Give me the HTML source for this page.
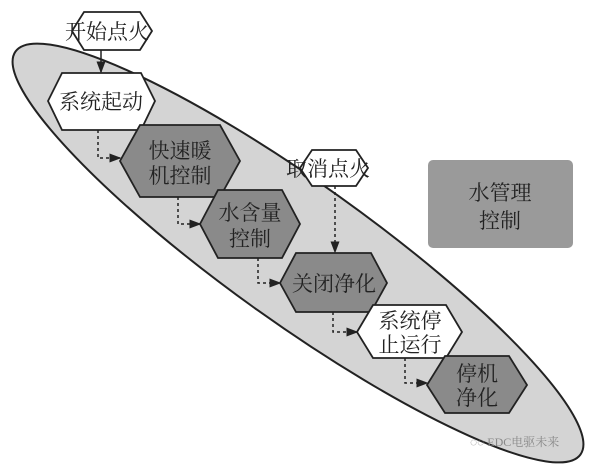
<!DOCTYPE html>
<html><head><meta charset="utf-8"><style>
html,body{margin:0;padding:0;background:#fff;width:606px;height:468px;overflow:hidden;}
svg{display:block;}
svg text{font-family:"Liberation Serif","Noto Serif CJK SC",serif;fill:#222;}
</style></head><body>
<svg width="606" height="468" viewBox="0 0 606 468">
<defs><marker id="a" markerWidth="8" markerHeight="8" refX="7" refY="4" orient="auto"><path d="M0,1 L8,4 L0,7z" fill="#222"/></marker></defs>
<rect width="606" height="468" fill="#fff"/>
<ellipse cx="298" cy="253" rx="347" ry="70" transform="rotate(35.5 298 253)" fill="#d4d4d4" stroke="#222" stroke-width="2"/>
<rect x="428" y="160" width="145" height="88" rx="5" fill="#9a9a9a"/>
<text x="500" y="200" font-size="21" text-anchor="middle">水管理</text>
<text x="500" y="228" font-size="21" text-anchor="middle">控制</text>
<g stroke="#222" stroke-width="1.5" fill="none" stroke-dasharray="3,3">
<path d="M101 50 V72" stroke-dasharray="none" marker-end="url(#a)"/>
<path d="M98 130 V158 H120" marker-end="url(#a)"/>
<path d="M178 197 V224 H200" marker-end="url(#a)"/>
<path d="M335 186 V252" marker-end="url(#a)"/>
<path d="M258 258 V283 H280" marker-end="url(#a)"/>
<path d="M333 312 V332 H357" marker-end="url(#a)"/>
<path d="M405 358 V383 H427" marker-end="url(#a)"/>
</g>
<g stroke="#222" stroke-width="1.8">
<polygon points="72,31 84,12 140,12 152,31 140,50 84,50" fill="#fff"/>
<polygon points="48,101 62,73 141,73 155,101 141,130 62,130" fill="#fff"/>
<polygon points="120,161 140,125 220,125 240,161 220,197 140,197" fill="#8a8a8a"/>
<polygon points="200,224 218,190 282,190 300,224 282,258 218,258" fill="#8a8a8a"/>
<polygon points="300,168 312,150 356,150 368,168 356,186 312,186" fill="#fff"/>
<polygon points="280,283 296,253 371,253 387,283 371,312 296,312" fill="#8a8a8a"/>
<polygon points="357,332 373,305 446,305 462,332 446,358 373,358" fill="#fff"/>
<polygon points="427,385 445,356 509,356 527,385 509,413 445,413" fill="#8a8a8a"/>
</g>
<g font-size="21" text-anchor="middle">
<text x="107" y="39">开始点火</text>
<text x="101" y="109">系统起动</text>
<text x="180" y="158">快速暖</text>
<text x="180" y="183">机控制</text>
<text x="250" y="220">水含量</text>
<text x="250" y="246">控制</text>
<text x="328" y="176">取消点火</text>
<text x="334" y="291">关闭净化</text>
<text x="410" y="328">系统停</text>
<text x="410" y="352">止运行</text>
<text x="477" y="381">停机</text>
<text x="477" y="405">净化</text>
</g>
<text x="470" y="446" font-size="12" style="fill:#888">◌◌ EDC电驱未来</text>
</svg>
</body></html>
